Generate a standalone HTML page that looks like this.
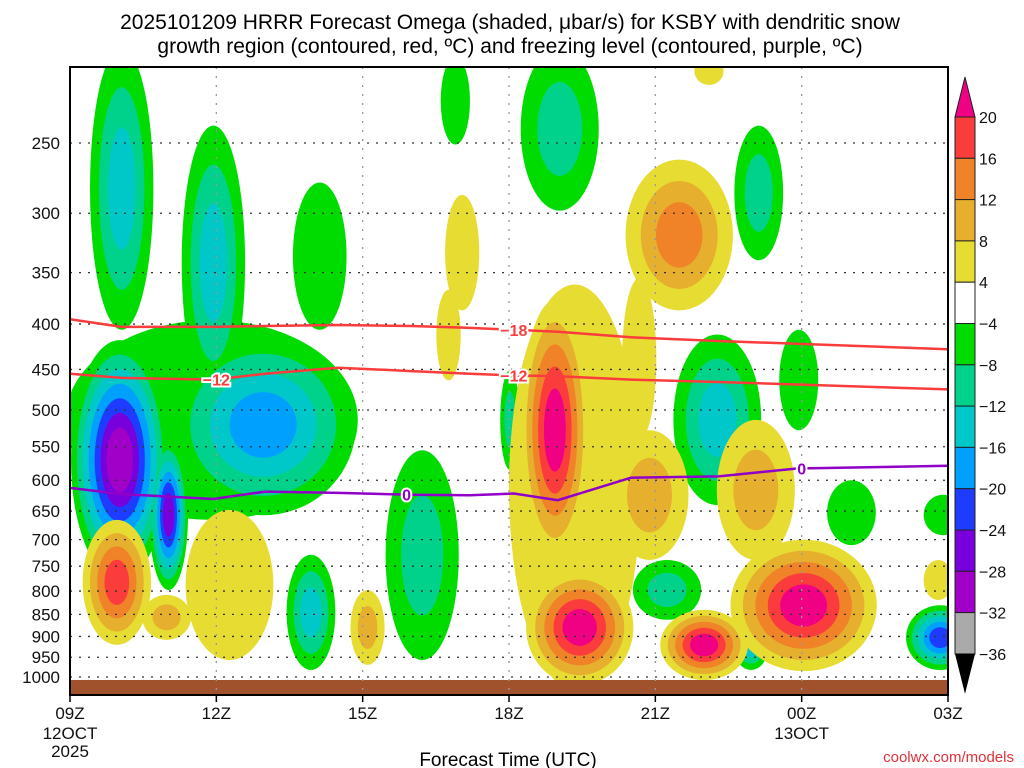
<!DOCTYPE html>
<html><head><meta charset="utf-8"><style>
body{margin:0;background:#fff;}
svg{display:block;font-family:"Liberation Sans","DejaVu Sans",sans-serif;}
</style></head><body>
<svg id="c" width="1024" height="768" viewBox="0 0 1024 768">
<text x="510" y="29" font-size="21" text-anchor="middle">2025101209 HRRR Forecast Omega (shaded, μbar/s) for KSBY with dendritic snow</text>
<text x="510" y="53" font-size="21" text-anchor="middle">growth region (contoured, red, ºC) and freezing level (contoured, purple, ºC)</text>
<defs><clipPath id="clip"><rect x="70" y="67" width="878" height="628"/></clipPath></defs>
<g id="blobs" clip-path="url(#clip)"></g>
<g id="grid"></g>
<g id="lines" clip-path="url(#clip)"></g>
<g id="axes"></g>
<g id="cbar"></g>
<text x="508" y="766" font-size="19" text-anchor="middle">Forecast Time (UTC)</text>
<text x="1014" y="762" font-size="15" fill="#e0303a" text-anchor="end">coolwx.com/models</text>
</svg>
<script>
// data
const xTickLabels=["09Z","12Z","15Z","18Z","21Z","00Z","03Z"];
const pLevels=[250,300,350,400,450,500,550,600,650,700,750,800,850,900,950,1000];
const cbarLabels=[20,16,12,8,4,-4,-8,-12,-16,-20,-24,-28,-32,-36];
// blobs: hour, pTop, pBot, halfWidthHours, peakLevel
const negBlobs=[[1.06,195,406,0.65,-3],[2.94,239,487,0.65,-3],[5.12,277,406,0.55,-1],[2.9,396,665,3.0,-1],
[1.02,417,777,1.0,-7],[2.02,540,798,0.4,-6],[3.96,411,657,1.9,-4],[4.94,728,982,0.5,-3],[7.22,555,957,0.75,-2],
[7.9,200,251,0.3,-1],[10.04,195,298,0.8,-2],[9.02,451,584,0.2,-2],[13.27,411,640,0.9,-3],[14.12,239,339,0.5,-2],
[14.94,406,527,0.4,-1],[16.02,600,710,0.5,-1],[17.9,623,692,0.4,-1],[12.24,738,862,0.7,-2],[13.96,874,982,0.35,-3],[17.84,830,982,0.7,-5]];
const posBlobs=[[0.96,665,920,0.7,4],[1.98,808,908,0.5,2],[3.27,648,957,0.9,1],[6.1,798,969,0.35,2],[8.04,286,386,0.35,1],
[7.76,366,463,0.25,1],[10.35,361,1034,1.35,1],[9.94,376,738,0.7,5],[10.45,757,1021,1.1,5],[12.49,261,386,1.1,3],
[11.88,527,738,0.8,2],[11.67,355,540,0.35,1],[14.06,513,738,0.8,2],[13.0,840,1008,0.9,5],[15.04,700,985,1.5,5],
[17.8,738,819,0.3,1],[13.1,200,215,0.3,1]];
const posColors=["#e6dc32","#e6af2d","#f08228","#fa3c3c","#f00082"];
const negColors=["#00dc00","#00d28c","#00c8c8","#00a0ff","#1e3cff","#7800dc","#a000c8"];
const cbarColors=["#fa3c3c","#f08228","#e6af2d","#e6dc32","#ffffff","#00dc00","#00d28c","#00c8c8","#00a0ff","#1e3cff","#7800dc","#a000c8","#aaaaaa"];
const lineHours=[0,1.06,2.94,4.0,5.5,7.0,8.2,9.1,10.0,11.5,13.3,14.9,18];
const dgzTop=[395,403,403,402,401,402,404,406,408,414,418,421,427];
const dgzBot=[455,460,462,455,448,452,455,457,458,462,465,468,474];
const frzLvl=[612,622,630,618,620,623,624,621,632,596,594,582,578];

const NS="http://www.w3.org/2000/svg";
const X0=70,X1=948,Y0=67,Y1=695;
const xs=h=>X0+h*(X1-X0)/18;
const ys=p=>677-385.2*Math.log(1000/p);
function mk(tag,attrs,parent){const e=document.createElementNS(NS,tag);for(const k in attrs)e.setAttribute(k,attrs[k]);parent.appendChild(e);return e;}
const gB=document.getElementById('blobs');
function drawSet(blobs,colors,name){
  const maxL=Math.max(...blobs.map(b=>Math.abs(b[4])));
  for(let lev=1;lev<=maxL;lev++){
    blobs.forEach(b=>{
      const n=Math.abs(b[4]); if(n<lev)return;
      const s=1-(lev-1)/n*0.85;
      const yt=ys(b[1]),yb=ys(b[2]);
      const e=mk('ellipse',{cx:xs(b[0]),cy:(yt+yb)/2,rx:b[3]*(X1-X0)/18*s,ry:(yb-yt)/2*s,fill:colors[lev-1]},gB);
      
      
    });
  }
}
drawSet(negBlobs,negColors,'ascent-shading');
drawSet(posBlobs,posColors,'descent-shading');
const ground=mk('rect',{x:X0,y:680,width:X1-X0,height:Y1-680,fill:"#a0522d"},gB);



const gG=document.getElementById('grid');
for(let i=1;i<6;i++){const l=mk('line',{x1:xs(i*3),x2:xs(i*3),y1:Y0,y2:Y1,stroke:"#999",'stroke-width':1.3,'stroke-dasharray':"2,7"},gG);

}
pLevels.forEach(p=>{const l=mk('line',{x1:X0,x2:X1,y1:ys(p),y2:ys(p),stroke:"#333",'stroke-width':1.3,'stroke-dasharray':"2,7"},gG);

});

const gL=document.getElementById('lines');
function pline(vals,color,name){
  const d=vals.map((p,i)=>(i?'L':'M')+xs(lineHours[i]).toFixed(1)+','+ys(p).toFixed(1)).join(' ');
  const e=mk('path',{d:d,fill:'none',stroke:color,'stroke-width':2.5},gL);
  
  
}
pline(dgzTop,"#fa3c3c",'dgz-minus18-contour');
pline(dgzBot,"#fa3c3c",'dgz-minus12-contour');
pline(frzLvl,"#9000c8",'freezing-level-contour');
function lab(h,p,t,c,name){
const e=mk('text',{x:xs(h),y:ys(p)+6,'font-size':16,'font-weight':'bold',fill:c,'text-anchor':'middle',stroke:'#fff','stroke-width':4,'paint-order':'stroke'},gL);e.textContent=t;

}
lab(9.1,406,"\u221218","#fa3c3c",'label-minus18');
lab(3.0,462,"\u221212","#fa3c3c",'label-minus12-a');
lab(9.1,457,"\u221212","#fa3c3c",'label-minus12-b');
lab(6.9,623,"0","#9000c8",'label-freezing-a');
lab(15.0,582,"0","#9000c8",'label-freezing-b');

const gA=document.getElementById('axes');
const fr=mk('rect',{x:X0,y:Y0,width:X1-X0,height:Y1-Y0,fill:'none',stroke:'#000','stroke-width':2},gA);


pLevels.forEach(p=>{const t=mk('text',{x:60,y:ys(p)+6,'font-size':17,'text-anchor':'end',fill:'#111'},gA);t.textContent=p;

});
xTickLabels.forEach((s,i)=>{const x=xs(i*3);
const tk=mk('line',{x1:x,x2:x,y1:Y1,y2:Y1+7,stroke:'#000','stroke-width':1.5},gA);


const t=mk('text',{x:x,y:719,'font-size':17,'text-anchor':'middle',fill:'#111'},gA);t.textContent=s;

});
[[0,"12OCT",739],[0,"2025",757],[15,"13OCT",739]].forEach(a=>{const t=mk('text',{x:xs(a[0]),y:a[2],'font-size':17,'text-anchor':'middle',fill:'#111'},gA);t.textContent=a[1];

});

const gC=document.getElementById('cbar');
const CX=955,CW=20,cTop=117,step=41.3;
const tt=mk('polygon',{points:`${CX},${cTop} ${CX+CW},${cTop} ${CX+CW/2},${cTop-40}`,fill:"#f00082",stroke:'#222'},gC);


cbarColors.forEach((c,i)=>{const r=mk('rect',{x:CX,y:cTop+i*step,width:CW,height:step,fill:c,stroke:'#222','stroke-width':1},gC);

});
const bt=cTop+cbarColors.length*step;
const tb=mk('polygon',{points:`${CX},${bt} ${CX+CW},${bt} ${CX+CW/2},${bt+40}`,fill:"#000"},gC);


cbarLabels.forEach((v,i)=>{const t=mk('text',{x:979,y:cTop+i*step+6,'font-size':16,fill:'#111'},gC);t.textContent=v<0?'\u2212'+(-v):v;

});
</script>
</body></html>
